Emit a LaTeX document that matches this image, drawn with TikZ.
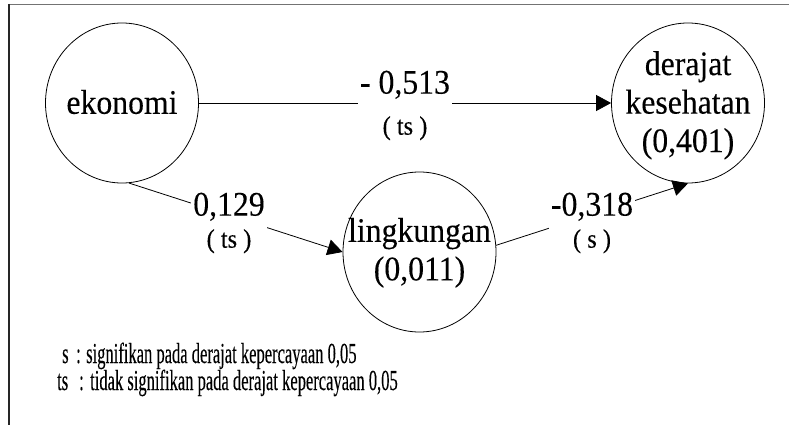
\documentclass[tikz,border=0pt]{standalone}
\usepackage{fontspec}
\setmainfont{Liberation Serif}
\newfontfamily\mainf[FakeStretch=0.92,FakeBold=0.2]{Liberation Serif}
\newfontfamily\legfont[FakeStretch=0.57,FakeBold=0.2]{Liberation Serif}
\usetikzlibrary{arrows.meta,shapes.geometric}
\begin{document}
\begin{tikzpicture}[x=1pt,y=-1pt,
  ell/.style={draw,ellipse,minimum width=153pt,minimum height=160pt,inner sep=0pt,line width=0.8pt},
  big/.style={font=\mainf\fontsize{34.5}{38.5}\selectfont,align=center,inner sep=0pt},
  arr/.style={line width=0.8pt,-{Triangle[length=15pt,width=16pt]}},
  lab/.style={fill=white,align=center,inner sep=2pt},
  leg/.style={font=\legfont\fontsize{29}{31}\selectfont,inner sep=0pt,anchor=base west},
]
\useasboundingbox (0,0) rectangle (789,425);
\draw[line width=1.5pt,black!55] (8,4.5) -- (789,4.5);
\draw[line width=1.5pt,black!85] (9,4) -- (9,425);

\node[ell] (eko) at (122,103) {};
\node[ell] (der) at (688,103) {};
\node[ell] (ling) at (419.5,252) {};
\node[big] (ekot) at (122,102) {ekonomi};
\node[big] (dert) at (688,105.3) {derajat\\kesehatan\\(0,401)};
\node[big] (lingt) at (419.5,252.8) {lingkungan\\(0,011)};

\draw[arr] (eko.east) -- (der.west);
\draw[arr] (eko.-85) -- (ling.west);
\draw[arr] (ling.5) -- (der.south);

\node[lab,font=\mainf\fontsize{34.5}{41}\selectfont] (l1) at (405,105.5) {- 0,513\\{\fontsize{26.5}{41}\selectfont ( ts )}};
\node[lab,font=\mainf\fontsize{34.5}{32}\selectfont] (l2) at (229,223) {0,129\\{\fontsize{26.5}{32}\selectfont ( ts )}};
\node[lab,font=\mainf\fontsize{34.5}{32}\selectfont] (l3) at (592,223) {-0,318\\{\fontsize{26.5}{32}\selectfont ( s )}};

\node[leg] (s1) at (62,363) {s};
\node[leg] (c1) at (76,363) {:};
\node[leg] (t1) at (86,363) {signifikan pada derajat kepercayaan 0,05};
\node[leg] (s2) at (57,390) {ts};
\node[leg] (c2) at (79,390) {:};
\node[leg] (t2) at (90,390) {tidak signifikan pada derajat kepercayaan 0,05};
\end{tikzpicture}
\end{document}
